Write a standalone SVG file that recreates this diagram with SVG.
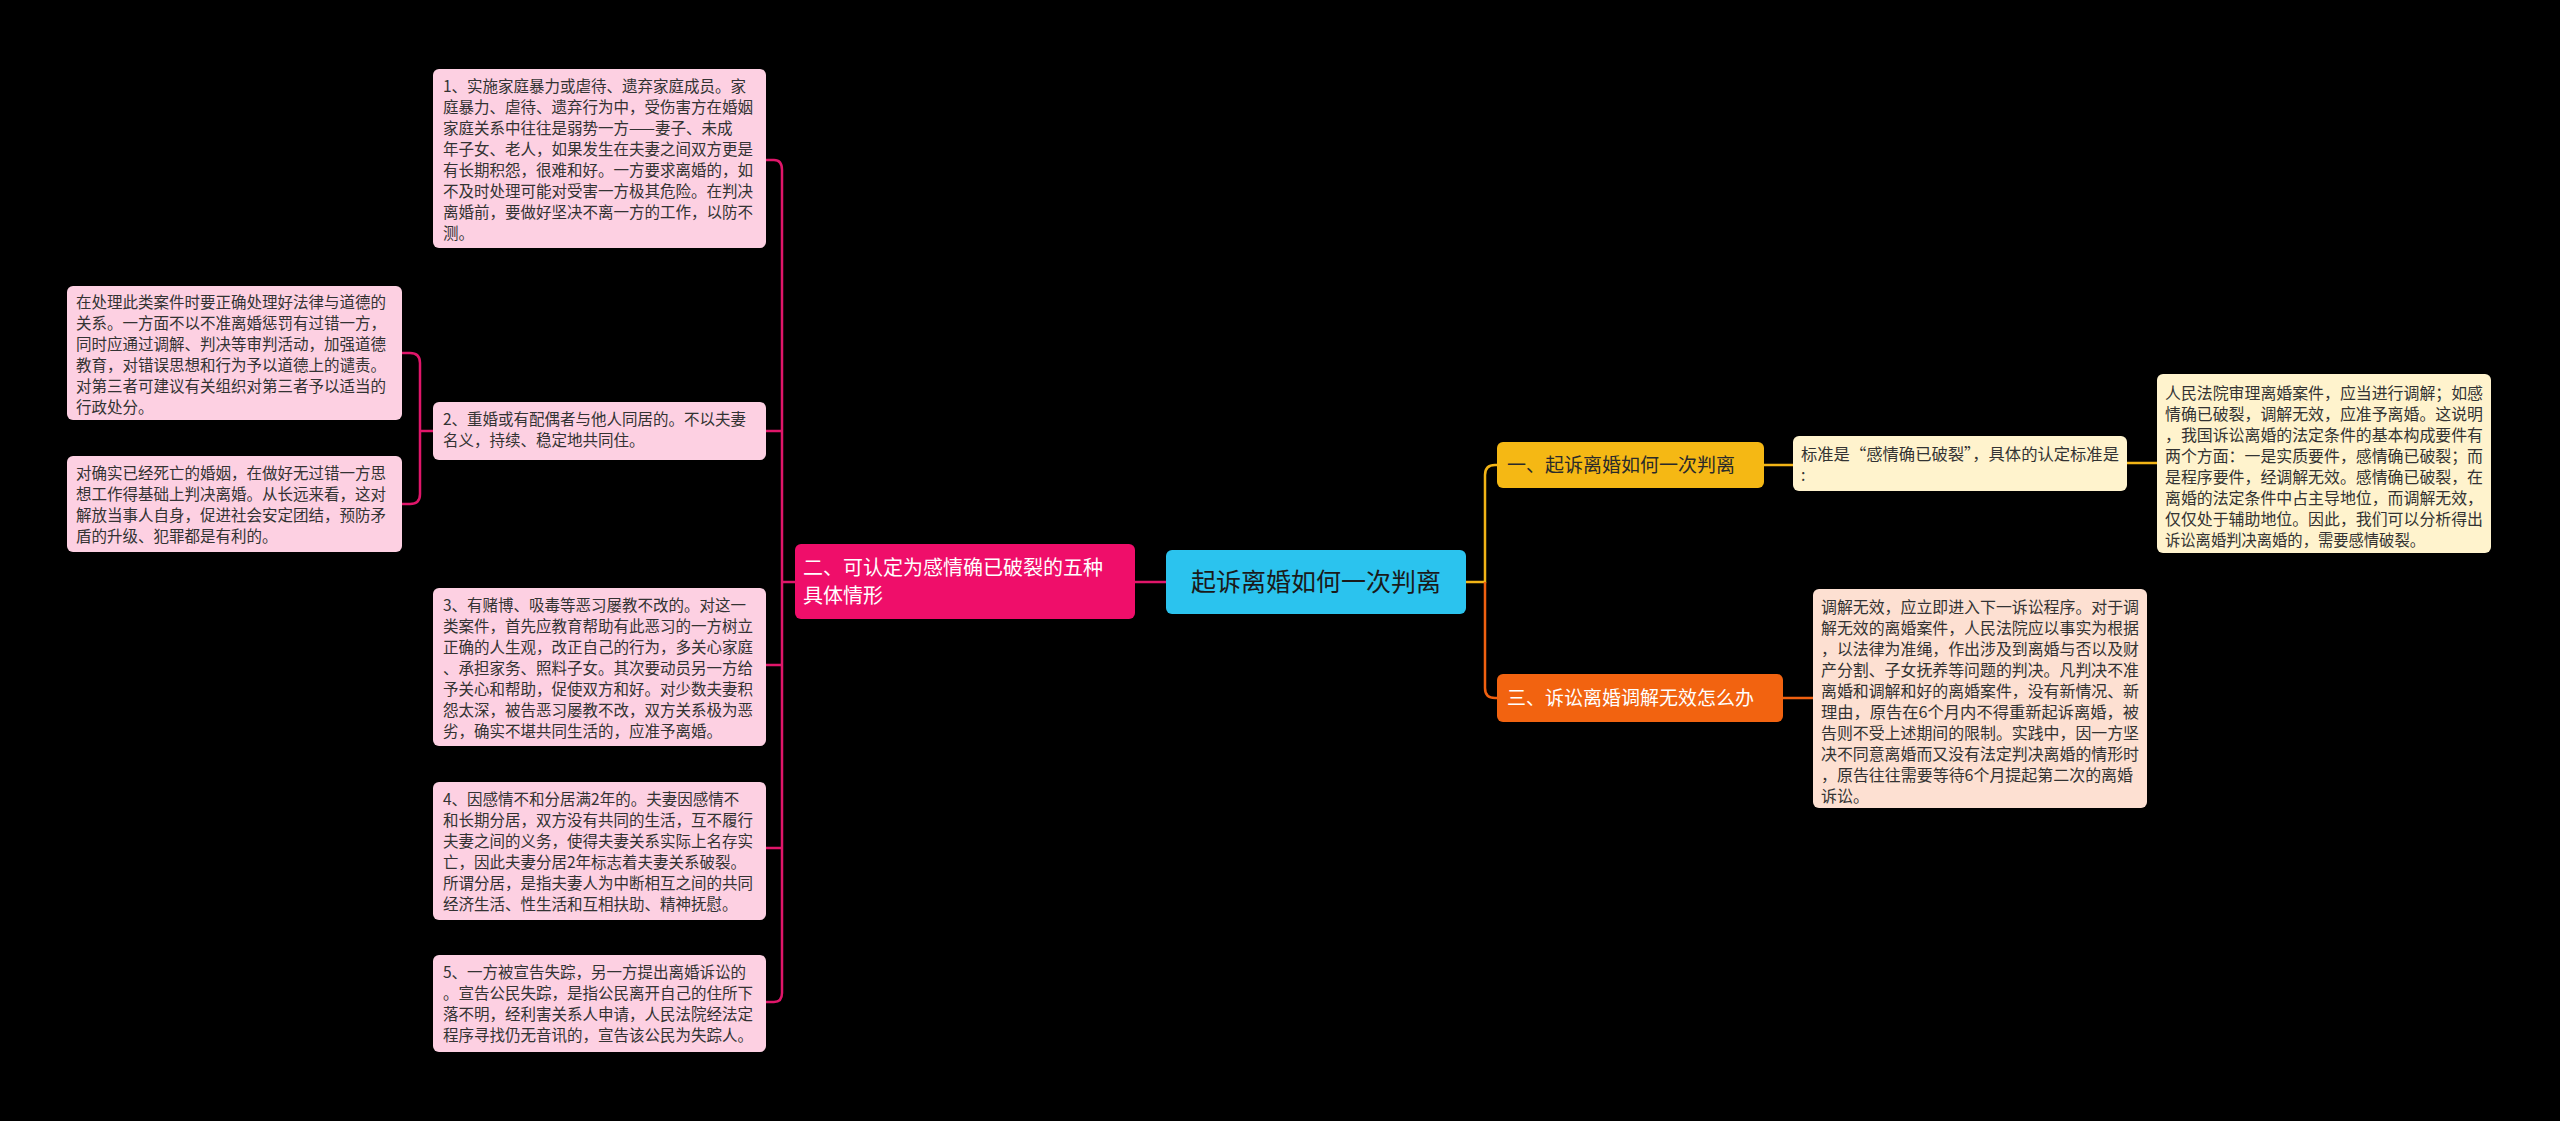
<svg xmlns="http://www.w3.org/2000/svg" width="2560" height="1121" viewBox="0 0 2560 1121">
<style>
text{font-family:"Noto Sans CJK SC","Noto Sans",sans-serif;fill:#333}
.p{fill:#fdd0e2}
.c{fill:#fff3cd}
.o{fill:#fde0d2}
.t{font-size:15.5px}
.r{font-size:16px}
.lm{fill:none;stroke:#e0166a;stroke-width:2.5}
.la{fill:none;stroke:#f2b416;stroke-width:2.5}
.lo{fill:none;stroke:#f06010;stroke-width:2.5}
</style>
<rect width="2560" height="1121" fill="#000"/>
<g id="connectors">
<path class="lm" d="M1166 582 H1135"/>
<path class="lm" d="M795 582 H782 M766 160 H774 Q782 160 782 170 V993 Q782 1002 774 1002 H766 M766 431 H782 M766 665 H782 M766 848 H782"/>
<path class="lm" d="M433 431 H420 M402 353 H410 Q420 353 420 363 V494 Q420 504 410 504 H402"/>
<path class="la" d="M1466 582 H1485 V475 Q1485 465 1495 465 H1497 M1764 465 H1793 M2127 463 H2157"/>
<path class="lo" d="M1485 582 V688 Q1485 698 1495 698 H1497 M1783 698 H1813"/>
</g>
<g id="center"><rect x="1166" y="550" width="300" height="64" rx="6" fill="#2bc3ee"/><text x="1316" y="591" font-size="25" text-anchor="middle" style="fill:#1a1a1a">起诉离婚如何一次判离</text></g>
<g id="left-main"><rect x="795" y="544" width="340" height="75" rx="6" fill="#ef0e6a"/><text x="803" y="575" font-size="20" style="fill:#fff">二、可认定为感情确已破裂的五种</text><text x="803" y="603" font-size="20" style="fill:#fff">具体情形</text></g>
<g id="n1"><rect class="p" x="433" y="69" width="333" height="179" rx="6"/><text class="t" x="443"><tspan x="443" y="92">1、实施家庭暴力或虐待、遗弃家庭成员。家</tspan><tspan x="443" y="113">庭暴力、虐待、遗弃行为中，受伤害方在婚姻</tspan><tspan x="443" y="134">家庭关系中往往是弱势一方——妻子、未成</tspan><tspan x="443" y="155">年子女、老人，如果发生在夫妻之间双方更是</tspan><tspan x="443" y="176">有长期积怨，很难和好。一方要求离婚的，如</tspan><tspan x="443" y="197">不及时处理可能对受害一方极其危险。在判决</tspan><tspan x="443" y="218">离婚前，要做好坚决不离一方的工作，以防不</tspan><tspan x="443" y="239">测。</tspan></text></g>
<g id="n2"><rect class="p" x="433" y="402" width="333" height="58" rx="6"/><text class="t"><tspan x="443" y="425">2、重婚或有配偶者与他人同居的。不以夫妻</tspan><tspan x="443" y="446">名义，持续、稳定地共同住。</tspan></text></g>
<g id="n2a"><rect class="p" x="67" y="286" width="335" height="134" rx="6"/><text class="t"><tspan x="76" y="308">在处理此类案件时要正确处理好法律与道德的</tspan><tspan x="76" y="329">关系。一方面不以不准离婚惩罚有过错一方，</tspan><tspan x="76" y="350">同时应通过调解、判决等审判活动，加强道德</tspan><tspan x="76" y="371">教育，对错误思想和行为予以道德上的谴责。</tspan><tspan x="76" y="392">对第三者可建议有关组织对第三者予以适当的</tspan><tspan x="76" y="413">行政处分。</tspan></text></g>
<g id="n2b"><rect class="p" x="67" y="456" width="335" height="96" rx="6"/><text class="t"><tspan x="76" y="479">对确实已经死亡的婚姻，在做好无过错一方思</tspan><tspan x="76" y="500">想工作得基础上判决离婚。从长远来看，这对</tspan><tspan x="76" y="521">解放当事人自身，促进社会安定团结，预防矛</tspan><tspan x="76" y="542">盾的升级、犯罪都是有利的。</tspan></text></g>
<g id="n3"><rect class="p" x="433" y="588" width="333" height="158" rx="6"/><text class="t"><tspan x="443" y="611">3、有赌博、吸毒等恶习屡教不改的。对这一</tspan><tspan x="443" y="632">类案件，首先应教育帮助有此恶习的一方树立</tspan><tspan x="443" y="653">正确的人生观，改正自己的行为，多关心家庭</tspan><tspan x="443" y="674">、承担家务、照料子女。其次要动员另一方给</tspan><tspan x="443" y="695">予关心和帮助，促使双方和好。对少数夫妻积</tspan><tspan x="443" y="716">怨太深，被告恶习屡教不改，双方关系极为恶</tspan><tspan x="443" y="737">劣，确实不堪共同生活的，应准予离婚。</tspan></text></g>
<g id="n4"><rect class="p" x="433" y="782" width="333" height="138" rx="6"/><text class="t"><tspan x="443" y="805">4、因感情不和分居满2年的。夫妻因感情不</tspan><tspan x="443" y="826">和长期分居，双方没有共同的生活，互不履行</tspan><tspan x="443" y="847">夫妻之间的义务，使得夫妻关系实际上名存实</tspan><tspan x="443" y="868">亡，因此夫妻分居2年标志着夫妻关系破裂。</tspan><tspan x="443" y="889">所谓分居，是指夫妻人为中断相互之间的共同</tspan><tspan x="443" y="910">经济生活、性生活和互相扶助、精神抚慰。</tspan></text></g>
<g id="n5"><rect class="p" x="433" y="955" width="333" height="97" rx="6"/><text class="t"><tspan x="443" y="978">5、一方被宣告失踪，另一方提出离婚诉讼的</tspan><tspan x="443" y="999">。宣告公民失踪，是指公民离开自己的住所下</tspan><tspan x="443" y="1020">落不明，经利害关系人申请，人民法院经法定</tspan><tspan x="443" y="1041">程序寻找仍无音讯的，宣告该公民为失踪人。</tspan></text></g>
<g id="r1"><rect x="1497" y="442" width="267" height="46" rx="6" fill="#f5b814"/><text x="1507" y="472" font-size="19" style="fill:#2a2a2a">一、起诉离婚如何一次判离</text></g>
<g id="r3"><rect x="1497" y="674" width="286" height="48" rx="6" fill="#f26310"/><text x="1507" y="705" font-size="19" style="fill:#fff">三、诉讼离婚调解无效怎么办</text></g>
<g id="r1a"><rect class="c" x="1793" y="436" width="334" height="55" rx="6"/><text class="r"><tspan x="1801" y="460" textLength="318" lengthAdjust="spacingAndGlyphs">标准是“感情确已破裂”，具体的认定标准是</tspan><tspan x="1801" y="481">:</tspan></text></g>
<g id="r1b"><rect class="c" x="2157" y="374" width="334" height="179" rx="6"/><text class="r"><tspan x="2165" y="399" textLength="318" lengthAdjust="spacingAndGlyphs">人民法院审理离婚案件，应当进行调解；如感</tspan><tspan x="2165" y="420" textLength="318" lengthAdjust="spacingAndGlyphs">情确已破裂，调解无效，应准予离婚。这说明</tspan><tspan x="2165" y="441" textLength="318" lengthAdjust="spacingAndGlyphs">，我国诉讼离婚的法定条件的基本构成要件有</tspan><tspan x="2165" y="462" textLength="318" lengthAdjust="spacingAndGlyphs">两个方面：一是实质要件，感情确已破裂；而</tspan><tspan x="2165" y="483" textLength="318" lengthAdjust="spacingAndGlyphs">是程序要件，经调解无效。感情确已破裂，在</tspan><tspan x="2165" y="504" textLength="318" lengthAdjust="spacingAndGlyphs">离婚的法定条件中占主导地位，而调解无效，</tspan><tspan x="2165" y="525" textLength="318" lengthAdjust="spacingAndGlyphs">仅仅处于辅助地位。因此，我们可以分析得出</tspan><tspan x="2165" y="546" textLength="260" lengthAdjust="spacingAndGlyphs">诉讼离婚判决离婚的，需要感情破裂。</tspan></text></g>
<g id="r3a"><rect class="o" x="1813" y="589" width="334" height="219" rx="6"/><text class="r"><tspan x="1821" y="613" textLength="318" lengthAdjust="spacingAndGlyphs">调解无效，应立即进入下一诉讼程序。对于调</tspan><tspan x="1821" y="634" textLength="318" lengthAdjust="spacingAndGlyphs">解无效的离婚案件，人民法院应以事实为根据</tspan><tspan x="1821" y="655" textLength="318" lengthAdjust="spacingAndGlyphs">，以法律为准绳，作出涉及到离婚与否以及财</tspan><tspan x="1821" y="676" textLength="318" lengthAdjust="spacingAndGlyphs">产分割、子女抚养等问题的判决。凡判决不准</tspan><tspan x="1821" y="697" textLength="318" lengthAdjust="spacingAndGlyphs">离婚和调解和好的离婚案件，没有新情况、新</tspan><tspan x="1821" y="718" textLength="318" lengthAdjust="spacingAndGlyphs">理由，原告在6个月内不得重新起诉离婚，被</tspan><tspan x="1821" y="739" textLength="318" lengthAdjust="spacingAndGlyphs">告则不受上述期间的限制。实践中，因一方坚</tspan><tspan x="1821" y="760" textLength="318" lengthAdjust="spacingAndGlyphs">决不同意离婚而又没有法定判决离婚的情形时</tspan><tspan x="1821" y="781" textLength="312" lengthAdjust="spacingAndGlyphs">，原告往往需要等待6个月提起第二次的离婚</tspan><tspan x="1821" y="802">诉讼。</tspan></text></g>
</svg>
